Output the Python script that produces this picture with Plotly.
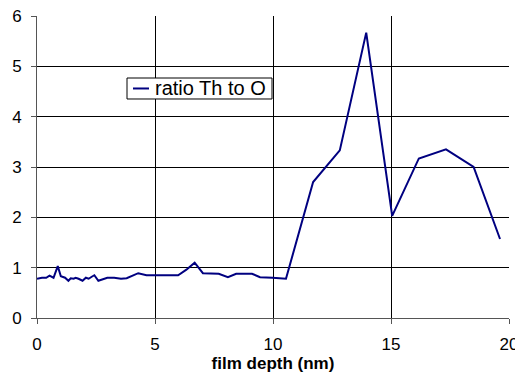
import plotly.graph_objects as go

depth = [0.0, 0.21, 0.39, 0.53, 0.70, 0.88, 1.01, 1.19, 1.33, 1.43, 1.55, 1.64, 1.76, 1.93, 2.07,
         2.19, 2.32, 2.43, 2.60, 2.77, 2.98, 3.27, 3.56, 3.80, 4.00, 4.29, 4.64, 5.00, 5.98,
         6.33, 6.68, 7.03, 7.70, 8.09, 8.44, 9.11, 9.45, 9.98, 10.55, 11.70, 12.83, 13.95,
         15.05, 16.18, 17.33, 18.50, 19.62]
ratio = [0.78, 0.80, 0.80, 0.84, 0.80, 1.03, 0.83, 0.80, 0.74, 0.79, 0.78, 0.80, 0.78, 0.74, 0.80,
         0.78, 0.82, 0.85, 0.74, 0.77, 0.80, 0.80, 0.78, 0.79, 0.83, 0.89, 0.85, 0.85, 0.85,
         0.96, 1.10, 0.89, 0.88, 0.81, 0.88, 0.88, 0.81, 0.80, 0.78, 2.70, 3.33, 5.67,
         2.03, 3.17, 3.35, 3.00, 1.57]

x_ticks = [0, 5, 10, 15, 20]
y_ticks = [0, 1, 2, 3, 4, 5, 6]
series_name = "ratio Th to O"
line_color = "#000080"

fig = go.Figure()
fig.add_trace(go.Scatter(x=depth, y=ratio, mode="lines", name=series_name,
                         line=dict(color=line_color, width=2), showlegend=False))

# legend drawn as a compact box (border, sample line, label)
fig.add_shape(type="rect", xref="paper", yref="paper", x0=0.1907, x1=0.4979, y0=0.7252, y1=0.7947,
              line=dict(color="black", width=1), fillcolor="white", layer="above")
fig.add_shape(type="line", xref="paper", yref="paper", x0=0.2034, x1=0.2373, y0=0.760, y1=0.760,
              line=dict(color=line_color, width=2), layer="above")
fig.add_annotation(text=series_name, xref="paper", yref="paper", x=0.2458, y=0.760,
                   xanchor="left", yanchor="middle", showarrow=False,
                   font=dict(size=20, color="black"))

font_family = "Liberation Sans, Arial, sans-serif"
fig.update_layout(
    width=515, height=371,
    margin=dict(l=29, r=14, t=8, b=61, autoexpand=False),
    paper_bgcolor="white", plot_bgcolor="white",
    font=dict(family=font_family, size=17, color="black"),
    showlegend=False,
    xaxis=dict(range=[0, 20], tickvals=x_ticks, showgrid=True, gridcolor="black", gridwidth=1,
               showline=True, linecolor="#555555", linewidth=1, ticks="outside", ticklen=5,
               tickcolor="#555555", zeroline=False, automargin=False, ticklabelstandoff=6,
               ticklabeloverflow="allow",
               title=dict(text="<b>film depth (nm)</b>", font=dict(size=17), standoff=1)),
    yaxis=dict(range=[0, 6], tickvals=y_ticks, showgrid=True, gridcolor="black", gridwidth=1,
               showline=True, linecolor="#555555", linewidth=1, ticks="outside", ticklen=5,
               tickcolor="#555555", zeroline=False, automargin=False, ticklabelstandoff=6,
               ticklabeloverflow="allow"),
)
fig.write_html("out.html")
